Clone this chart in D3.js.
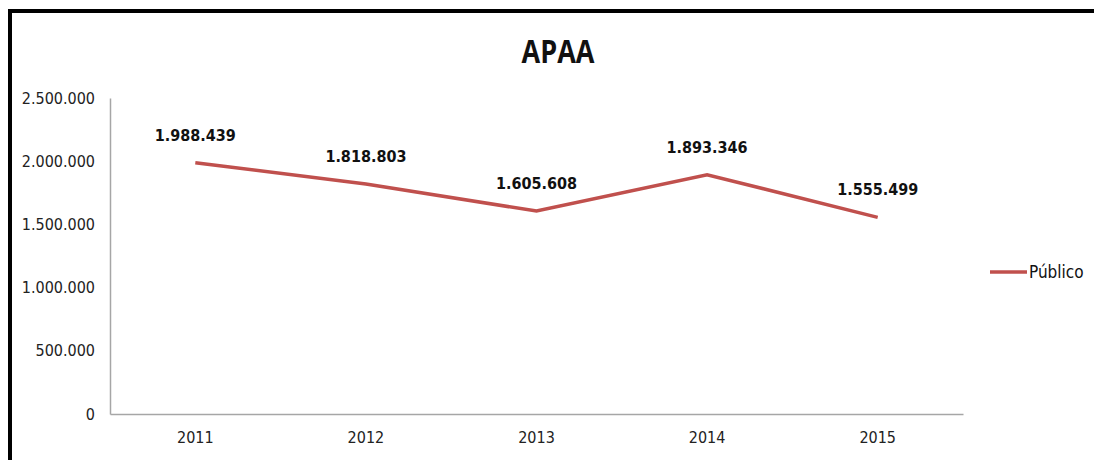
<!DOCTYPE html>
<html>
<head>
<meta charset="utf-8">
<script src="https://cdn.jsdelivr.net/npm/d3@7"></script>
<style>
  body { margin: 0; background: #fff; }
  svg { display: block; }
  .axis path { stroke: #a6a6a6; stroke-width: 1.5; }
  .axis text { font-family: "DejaVu Sans Condensed", sans-serif; font-size: 16px; fill: #222; }
</style>
</head>
<body>
<div id="chart"></div>
<script>
// data
let years = ["2011", "2012", "2013", "2014", "2015"];
let publico = [1988439, 1818803, 1605608, 1893346, 1555499];
let yTicks = [0, 500000, 1000000, 1500000, 2000000, 2500000];
let seriesName = "Público";
let chartTitle = "APAA";

let W = 1094, H = 460;
let margin = {top: 98, right: 131, bottom: 46, left: 110};
let width = W - margin.left - margin.right;
let height = H - margin.top - margin.bottom;

let fmt = function (v) {
    return d3.format(",")(v).replace(/,/g, ".");
};

let svg = d3.select("#chart").append("svg")
    .attr("width", W)
    .attr("height", H);

// frame (top + left)
svg.append("line").attr("x1", 8).attr("x2", W).attr("y1", 11).attr("y2", 11)
    .attr("stroke", "#000").attr("stroke-width", 4);
svg.append("line").attr("x1", 10).attr("x2", 10).attr("y1", 9).attr("y2", H)
    .attr("stroke", "#000").attr("stroke-width", 4);

// title, squeezed a bit to look like the narrow original
svg.append("text")
    .attr("transform", "translate(558,63) scale(0.82,1)")
    .attr("text-anchor", "middle")
    .style("font-family", "'Open Sans', sans-serif")
    .style("font-weight", "bold")
    .style("font-size", "33px")
    .style("fill", "#111")
    .text(chartTitle);

let g = svg.append("g")
    .attr("transform", "translate(" + margin.left + "," + margin.top + ")");

let x = d3.scaleBand().domain(years).range([0, width]);
let y = d3.scaleLinear().domain([0, 2500000]).range([height, 0]);

g.append("g")
    .attr("class", "axis")
    .call(d3.axisLeft(y).tickValues(yTicks).tickSize(0).tickPadding(15).tickFormat(fmt));

g.append("g")
    .attr("class", "axis")
    .attr("transform", "translate(0," + height + ")")
    .call(d3.axisBottom(x).tickSize(0).tickPadding(18));

let pts = years.map(function (d, i) {
    return {year: d, value: publico[i]};
});

g.append("path")
    .datum(pts)
    .attr("fill", "none")
    .attr("stroke", "#c0504d")
    .attr("stroke-width", 3.5)
    .attr("d", d3.line()
        .x(function (d) { return x(d.year) + x.bandwidth() / 2; })
        .y(function (d) { return y(d.value); }));

g.selectAll(".lbl")
    .data(pts)
    .enter().append("text")
    .attr("class", "lbl")
    .attr("x", function (d) { return x(d.year) + x.bandwidth() / 2; })
    .attr("y", function (d) { return y(d.value) - 22; })
    .attr("text-anchor", "middle")
    .style("font-family", "'DejaVu Sans Condensed', sans-serif")
    .style("font-weight", "bold")
    .style("font-size", "16px")
    .style("fill", "#111")
    .text(function (d) { return fmt(d.value); });

// legend
svg.append("line")
    .attr("x1", 990).attr("x2", 1027).attr("y1", 272).attr("y2", 272)
    .attr("stroke", "#c0504d").attr("stroke-width", 3.5);
svg.append("text")
    .attr("x", 1029).attr("y", 278)
    .style("font-family", "'DejaVu Sans Condensed', sans-serif")
    .style("font-size", "17px")
    .style("fill", "#111")
    .text(seriesName);
</script>
</body>
</html>
